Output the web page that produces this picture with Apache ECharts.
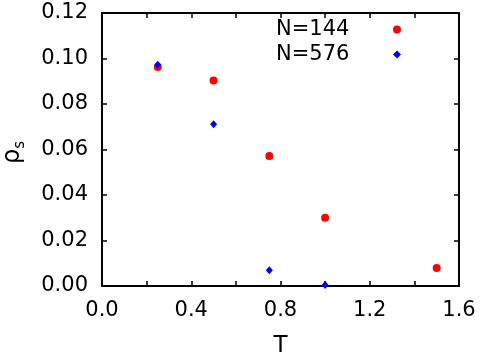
<!DOCTYPE html>
<html>
<head>
<meta charset="utf-8">
<script src="https://cdn.jsdelivr.net/npm/echarts@6/dist/echarts.min.js"></script>
<style>
  html, body { margin: 0; padding: 0; background: #fff; }
  #chart { width: 484px; height: 362px; }
</style>
</head>
<body>
<div id="chart"></div>
<script>
// Data
const seriesNames = ['N=144', 'N=576'];
const tN144 = [0.25, 0.5, 0.75, 1.0, 1.5];
const rhoN144 = [0.0963, 0.0903, 0.0571, 0.0300, 0.0079];
const tN576 = [0.25, 0.5, 0.75, 1.0];
const rhoN576 = [0.0973, 0.0711, 0.0069, 0.0004];
const xTickLabels = ['0.0', '0.4', '0.8', '1.2', '1.6'];
const yTickLabels = ['0.00', '0.02', '0.04', '0.06', '0.08', '0.10', '0.12'];

const FONT = 'DejaVu Sans';
const pairs = (xs, ys) => xs.map((x, i) => [x, ys[i]]);

const xMin = 0, xMax = 1.6, xStep = 0.2;
const yMin = 0, yMax = 0.12, yStep = 0.02;

function xLabel(v) {
  const k = Math.round(v / 0.4);
  return Math.abs(v - k * 0.4) < 1e-6 ? (xTickLabels[k] || '') : '';
}
function yLabel(v) {
  const k = Math.round(v / yStep);
  return yTickLabels[k] || '';
}

const chart = echarts.init(document.getElementById('chart'), null, { renderer: 'canvas' });
const frameLine = () => ({ show: true, onZero: false, lineStyle: { color: '#000', width: 2 } });
const tick = () => ({ show: true, inside: true, length: 5, lineStyle: { color: '#000', width: 1.5 } });

chart.setOption({
  animation: false,
  backgroundColor: '#fff',
  grid: { left: 102, right: 25, top: 13, bottom: 76, outerBoundsMode: 'none' },
  legend: {
    left: 271, top: 14, orient: 'vertical', align: 'right',
    itemGap: 4, itemWidth: 8, itemHeight: 8,
    data: [
      { name: seriesNames[0], icon: 'circle', itemStyle: { color: '#ff0000', opacity: 1 } },
      { name: seriesNames[1], icon: 'diamond', itemStyle: { color: '#0000ff', opacity: 1 } }
    ],
    formatter: n => '{a|' + n + '}',
    textStyle: {
      rich: { a: { fontFamily: FONT, fontSize: 21, color: '#000', width: 112, align: 'left', lineHeight: 21 } }
    }
  },
  xAxis: [
    {
      type: 'value', min: xMin, max: xMax, interval: xStep,
      name: 'T', nameLocation: 'middle', nameGap: 49,
      nameTextStyle: { fontFamily: FONT, fontSize: 23, color: '#000' },
      axisLine: frameLine(), axisTick: tick(), splitLine: { show: false },
      axisLabel: { formatter: xLabel, fontFamily: FONT, fontSize: 21, color: '#000', margin: 14, showMinLabel: true, showMaxLabel: true }
    },
    {
      type: 'value', position: 'top', min: xMin, max: xMax, interval: xStep,
      axisLine: frameLine(), axisTick: tick(), splitLine: { show: false }, axisLabel: { show: false }
    }
  ],
  yAxis: [
    {
      type: 'value', min: yMin, max: yMax, interval: yStep,
      name: '{r|ρ}{s|s}', nameLocation: 'middle', nameGap: 77, nameRotate: 90,
      nameTextStyle: {
        color: '#000',
        rich: {
          r: { fontFamily: FONT, fontSize: 24, color: '#000', lineHeight: 26, verticalAlign: 'bottom' },
          s: { fontFamily: FONT, fontSize: 15, color: '#000', lineHeight: 20, verticalAlign: 'bottom', padding: [0, 6, -3, 0] }
        }
      },
      axisLine: frameLine(), axisTick: tick(), splitLine: { show: false },
      axisLabel: { formatter: yLabel, fontFamily: FONT, fontSize: 21, color: '#000', margin: 14, showMinLabel: true, showMaxLabel: true }
    },
    {
      type: 'value', position: 'right', min: yMin, max: yMax, interval: yStep,
      axisLine: frameLine(), axisTick: tick(), splitLine: { show: false }, axisLabel: { show: false }
    }
  ],
  series: [
    {
      name: seriesNames[0], type: 'scatter', xAxisIndex: 0, yAxisIndex: 0,
      symbol: 'circle', symbolSize: 8, itemStyle: { color: '#ff0000', opacity: 1 },
      data: pairs(tN144, rhoN144), z: 3
    },
    {
      name: seriesNames[1], type: 'scatter', xAxisIndex: 0, yAxisIndex: 0,
      symbol: 'diamond', symbolSize: [7, 8], itemStyle: { color: '#0000ff', opacity: 1 },
      data: pairs(tN576, rhoN576), z: 4
    }
  ]
});
</script>
</body>
</html>
